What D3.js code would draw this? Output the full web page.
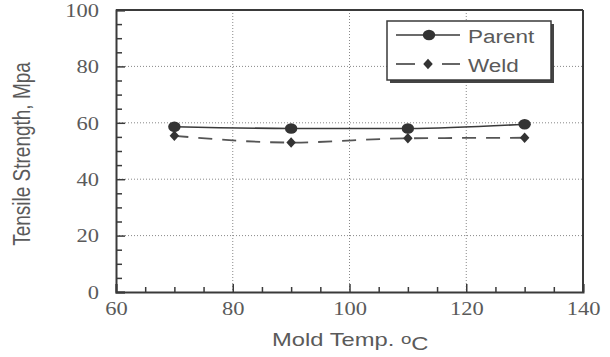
<!DOCTYPE html>
<html>
<head>
<meta charset="utf-8">
<script src="https://cdn.jsdelivr.net/npm/d3@7"></script>
<style>
  body { margin: 0; background: #fff; }
  svg { display: block; }
</style>
</head>
<body>
<div class="chart"></div>
<script>
// data
var temps = [70, 90, 110, 130];
var parent = [58.6, 58.0, 58.0, 59.5];
var weld = [55.4, 53.0, 54.5, 54.7];
var xTicks = [60, 80, 100, 120, 140];
var yTicks = [0, 20, 40, 60, 80, 100];

var svgWidth = 610;
var svgHeight = 357;

var margin = { top: 10, right: 27, bottom: 65, left: 116 };
var width = svgWidth - margin.left - margin.right;
var height = svgHeight - margin.top - margin.bottom;

var ink = "#3a3a3a";
var textCol = "#5a5a5a";
var sans = "'Liberation Sans', Arial, Helvetica, sans-serif";
var serif = "'Liberation Serif', 'Times New Roman', serif";
// the scanned figure is a bit wider than tall, so text is stretched sideways
var stretch = 1.25;

var svg = d3.select(".chart")
  .append("svg")
  .attr("width", svgWidth)
  .attr("height", svgHeight);

var chartGroup = svg.append("g")
  .attr("transform", `translate(${margin.left}, ${margin.top})`);

var x = d3.scaleLinear().domain([60, 140]).range([0, width]);
var y = d3.scaleLinear().domain([0, 100]).range([height, 0]);

// dotted grid at the inner major ticks
chartGroup.selectAll(".gx")
  .data(xTicks.slice(1, -1))
  .enter().append("line")
  .attr("x1", d => x(d)).attr("x2", d => x(d))
  .attr("y1", 0).attr("y2", height)
  .attr("stroke", "#888").attr("stroke-width", 1)
  .attr("stroke-dasharray", "1,2");

chartGroup.selectAll(".gy")
  .data(yTicks.slice(1, -1))
  .enter().append("line")
  .attr("x1", 0).attr("x2", width)
  .attr("y1", d => y(d)).attr("y2", d => y(d))
  .attr("stroke", "#888").attr("stroke-width", 1)
  .attr("stroke-dasharray", "1,2");

// minor ticks (every 5) and major ticks, pointing inward
var xMinor = d3.range(60, 141, 5).filter(v => v % 20 !== 0);
var yMinor = d3.range(0, 101, 5).filter(v => v % 20 !== 0);

var xAxis = chartGroup.append("g")
  .attr("transform", `translate(0, ${height})`)
  .call(d3.axisBottom(x).tickValues(xTicks).tickSize(-8).tickFormat(d3.format("d")));

chartGroup.append("g")
  .attr("transform", `translate(0, ${height})`)
  .call(d3.axisBottom(x).tickValues(xMinor).tickSize(-5).tickFormat(""))
  .select(".domain").remove();

var yAxis = chartGroup.append("g")
  .call(d3.axisLeft(y).tickValues(yTicks).tickSize(-9).tickFormat(d3.format("d")));

chartGroup.append("g")
  .call(d3.axisLeft(y).tickValues(yMinor).tickSize(-6).tickFormat(""))
  .select(".domain").remove();

chartGroup.selectAll(".domain").attr("stroke", ink).attr("stroke-width", 2);
chartGroup.selectAll(".tick line").attr("stroke", ink).attr("stroke-width", 1.5);
chartGroup.selectAll(".tick text")
  .attr("fill", textCol)
  .attr("font-family", serif)
  .attr("font-size", "18px");

xAxis.selectAll(".tick text")
  .attr("dy", null)
  .attr("y", 23)
  .attr("transform", `scale(${stretch}, 1)`);

yAxis.selectAll(".tick text")
  .attr("x", 0)
  .attr("dy", "0.35em")
  .attr("transform", `translate(-17, 0) scale(${stretch}, 1)`);

// frame top and right
chartGroup.append("line")
  .attr("x1", 0).attr("x2", width).attr("y1", 0).attr("y2", 0)
  .attr("stroke", ink).attr("stroke-width", 2);
chartGroup.append("line")
  .attr("x1", width).attr("x2", width).attr("y1", 0).attr("y2", height)
  .attr("stroke", ink).attr("stroke-width", 2);

// series
var parentData = temps.map((t, i) => ({ t: t, v: parent[i] }));
var weldData = temps.map((t, i) => ({ t: t, v: weld[i] }));

var line = d3.line()
  .x(d => x(d.t))
  .y(d => y(d.v))
  .curve(d3.curveMonotoneX);

chartGroup.append("path")
  .datum(parentData)
  .attr("d", line)
  .attr("fill", "none")
  .attr("stroke", ink)
  .attr("stroke-width", 1.6);

chartGroup.append("path")
  .datum(weldData)
  .attr("d", line)
  .attr("fill", "none")
  .attr("stroke", "#555")
  .attr("stroke-width", 1.8)
  .attr("stroke-dasharray", "14,10");

chartGroup.selectAll(".pdot")
  .data(parentData)
  .enter().append("ellipse")
  .attr("cx", d => x(d.t))
  .attr("cy", d => y(d.v))
  .attr("rx", 6.2)
  .attr("ry", 5.3)
  .attr("fill", "#333");

var diamond = d3.symbol().type(d3.symbolDiamond).size(40);
chartGroup.selectAll(".wdot")
  .data(weldData)
  .enter().append("path")
  .attr("d", diamond)
  .attr("transform", d => `translate(${x(d.t)}, ${y(d.v)}) scale(1.4, 0.9)`)
  .attr("fill", "#333");

// legend box with shadow
var legend = svg.append("g").attr("transform", "translate(387, 21)");
legend.append("rect")
  .attr("x", 3).attr("y", 3).attr("width", 164).attr("height", 59)
  .attr("fill", "#444");
legend.append("rect")
  .attr("x", 0).attr("y", 0).attr("width", 164).attr("height", 59)
  .attr("fill", "#fff").attr("stroke", ink).attr("stroke-width", 1.5);

legend.append("line")
  .attr("x1", 9).attr("x2", 73).attr("y1", 14).attr("y2", 14)
  .attr("stroke", ink).attr("stroke-width", 1.6);
legend.append("ellipse").attr("cx", 42).attr("cy", 14).attr("rx", 6.2).attr("ry", 5.3).attr("fill", "#333");
legend.append("text")
  .attr("transform", `translate(81, 22) scale(${stretch}, 1)`)
  .attr("fill", textCol)
  .attr("font-family", sans)
  .attr("font-size", "18px")
  .text("Parent");

legend.append("line")
  .attr("x1", 9).attr("x2", 28).attr("y1", 43).attr("y2", 43)
  .attr("stroke", "#555").attr("stroke-width", 1.8);
legend.append("line")
  .attr("x1", 55).attr("x2", 73).attr("y1", 43).attr("y2", 43)
  .attr("stroke", "#555").attr("stroke-width", 1.8);
legend.append("path")
  .attr("d", diamond)
  .attr("transform", "translate(41, 43) scale(1.4, 0.9)")
  .attr("fill", "#333");
legend.append("text")
  .attr("transform", `translate(81, 51) scale(${stretch}, 1)`)
  .attr("fill", textCol)
  .attr("font-family", sans)
  .attr("font-size", "18px")
  .text("Weld");

// axis titles
svg.append("text")
  .attr("transform", `translate(30, 154) scale(${stretch}, 1) rotate(-90)`)
  .attr("text-anchor", "middle")
  .attr("fill", textCol)
  .attr("font-family", sans)
  .attr("font-size", "19px")
  .text("Tensile Strength, Mpa");

var xTitle = svg.append("text")
  .attr("transform", `translate(272, 346) scale(${stretch}, 1)`)
  .attr("fill", textCol)
  .attr("font-family", sans)
  .attr("font-size", "19px");
xTitle.append("tspan").text("Mold Temp. ");
xTitle.append("tspan").attr("font-size", "15px").attr("dy", -2).text("o");
xTitle.append("tspan").attr("dy", 6).text("C");
</script>
</body>
</html>
